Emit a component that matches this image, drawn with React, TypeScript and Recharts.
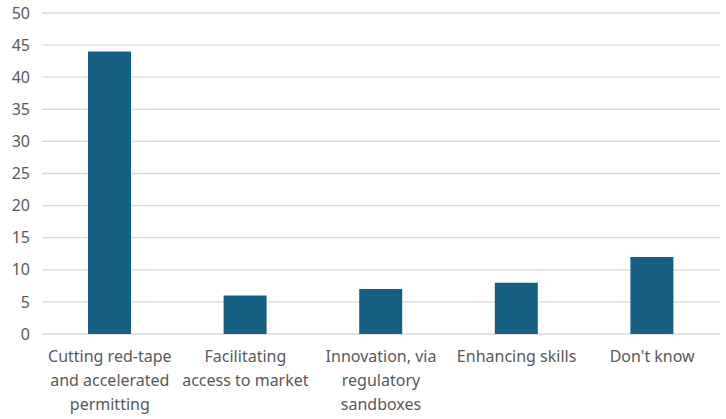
import { BarChart, Bar, XAxis, YAxis, CartesianGrid } from "recharts";

const categories = [
  "Cutting red-tape|and accelerated|permitting",
  "Facilitating|access to market",
  "Innovation, via|regulatory|sandboxes",
  "Enhancing skills",
  "Don't know",
];
const values = [44, 6, 7, 8, 12];
const yTicks = [0, 5, 10, 15, 20, 25, 30, 35, 40, 45, 50];

const data = categories.map((name, i) => ({ name, value: values[i] }));

const FONT = "'Noto Sans', sans-serif";

function CategoryTick(props: any) {
  const { x, y, payload } = props;
  const lines = String(payload.value).split("|");
  return (
    <text x={x} y={y} textAnchor="middle" fill="#595959" fontSize={16} fontFamily={FONT}>
      {lines.map((l, i) => (
        <tspan key={i} x={x} dy={i === 0 ? 20 : 24}>
          {l}
        </tspan>
      ))}
    </text>
  );
}

export default function App() {
  return (
    <div style={{ position: "absolute", left: 0, top: 0, background: "#fff" }}>
      <BarChart
        width={726}
        height={419}
        data={data}
        margin={{ top: 13, right: 6, bottom: 0, left: 0 }}
      >
        <CartesianGrid vertical={false} stroke="#d9d9d9" strokeWidth={1.3} />
        <XAxis
          dataKey="name"
          axisLine={false}
          tickLine={false}
          interval={0}
          height={85}
          tick={<CategoryTick />}
        />
        <YAxis
          domain={[0, 50]}
          ticks={yTicks}
          axisLine={false}
          tickLine={false}
          tickSize={0}
          tickMargin={12}
          width={42}
          tick={{ fill: "#595959", fontSize: 16, fontFamily: FONT }}
        />
        <Bar dataKey="value" fill="#156082" barSize={43} isAnimationActive={false} />
      </BarChart>
    </div>
  );
}
